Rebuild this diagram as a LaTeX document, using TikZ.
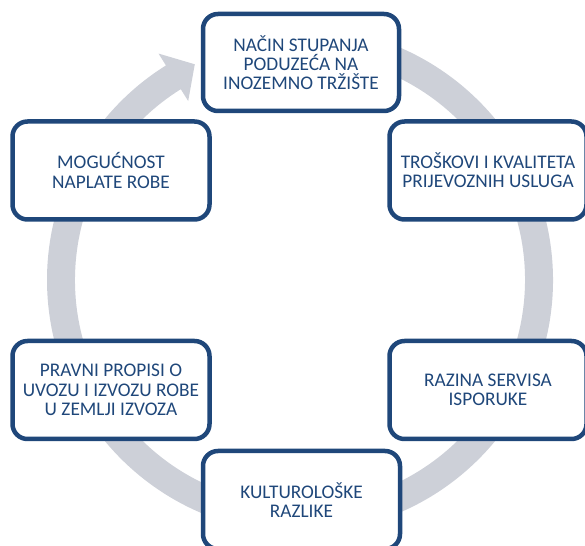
\documentclass[tikz,border=0pt]{standalone}
\usepackage{fontspec}
\setmainfont{Carlito}
\usepackage{tikz}
\definecolor{mblue}{RGB}{31, 71, 122}
\definecolor{ringgray}{RGB}{205, 208, 216}
\tikzset{box/.style = {draw = mblue, line width = 4.5pt, fill = white,
                       rounded corners = 15pt, align = center,
                       minimum width = 197pt, minimum height = 98pt,
                       text = mblue, font = \fontsize{19.3}{19.3}\selectfont}}

\begin{document}
\begin{tikzpicture}[x = 1pt, y = 1pt]
    \useasboundingbox (0, 0) rectangle (585, 545);
    \coordinate (ctr) at (300, 265);

    \fill [ringgray] ([shift = {(95:253)}] ctr) arc [start angle = 95, end angle = -238, radius = 253]
        -- ([shift = {(-238:267)}] ctr) -- ([shift = {(-244:240)}] ctr)
        -- ([shift = {(-238:211)}] ctr) -- ([shift = {(-238:225)}] ctr)
        arc [start angle = -238, end angle = 95, radius = 225] -- cycle;

    \node [box, minimum width = 196pt, minimum height = 97pt] (entry) at (301, 482.5)
        {NAČIN STUPANJA\\ PODUZEĆA NA\\ INOZEMNO TRŽIŠTE};
    \node [box] (transport) at (488, 374.5) {TROŠKOVI I KVALITETA\\ PRIJEVOZNIH USLUGA};
    \node [box] (service) at (488, 155) {RAZINA SERVISA\\ ISPORUKE};
    \node [box] (culture) at (301.5, 45) {KULTUROLOŠKE\\ RAZLIKE};
    \node [box] (law) at (111, 155) {PRAVNI PROPISI O\\ UVOZU I IZVOZU ROBE\\ U ZEMLJI IZVOZA};
    \node [box] (payment) at (111, 374.5) {MOGUĆNOST\\ NAPLATE ROBE};
\end{tikzpicture}
\end{document}
